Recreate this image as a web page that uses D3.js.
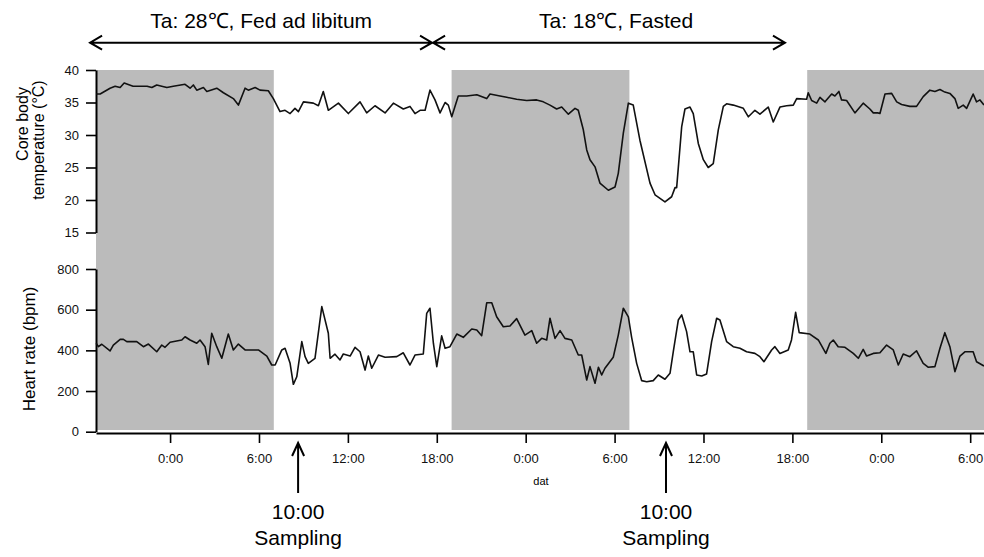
<!DOCTYPE html>
<html>
<head>
<meta charset="utf-8">
<script src="https://cdn.jsdelivr.net/npm/d3@7"></script>
<style>
  body { margin: 0; background: #fff; }
  svg { font-family: "Liberation Sans", Arial, sans-serif; }
</style>
</head>
<body>
<script>
// hours counted from 0:00 of the first full day
const tempHours = [-5.0,-4.72,-4.05,-3.71,-3.37,-3.10,-2.50,-1.55,-1.23,-0.90,
  -0.22,0.22,1.01,1.35,1.57,1.80,2.25,2.48,3.15,3.60,
  4.27,4.61,5.06,5.28,5.74,6.07,6.63,6.97,7.42,7.76,
  8.10,8.43,8.66,9.00,9.67,10.01,10.34,10.68,11.36,12.03,
  12.82,13.27,13.83,14.51,15.07,15.74,16.19,16.53,16.87,17.21,
  17.54,17.88,18.22,18.56,18.78,19.01,19.45,20.02,20.70,21.37,
  21.59,22.27,22.72,23.39,24.07,24.74,25.19,25.64,26.09,26.43,
  26.88,27.33,27.55,27.89,28.12,28.34,28.68,29.01,29.58,30.03,
  30.25,30.59,30.93,31.26,31.71,32.39,32.73,33.40,33.85,34.08,
  34.19,34.53,34.75,35.09,35.31,35.65,35.99,36.32,36.66,37.00,
  37.34,37.56,38.01,38.69,39.03,39.47,39.81,40.37,40.71,41.16,
  41.61,42.06,42.29,42.96,43.07,43.30,43.64,43.86,44.20,44.65,
  44.87,45.14,45.32,45.66,46.22,46.78,47.23,47.46,47.79,47.91,
  48.25,48.70,49.04,49.37,49.93,50.38,50.83,51.28,51.62,51.96,
  52.29,52.63,52.97,53.19,53.53,53.76,54.20,54.43,54.66,54.93];
const tempValues = [36.3,36.3,37.2,37.5,37.3,38.0,37.5,37.5,37.3,37.7,
  37.3,37.5,37.8,37.2,37.7,36.9,37.3,36.7,37.2,36.5,
  35.6,34.6,37.2,36.9,37.3,36.9,36.8,35.6,33.6,33.8,
  33.3,34.1,33.6,35.1,34.9,34.5,36.7,33.8,34.9,33.3,
  35.1,33.4,34.5,33.4,34.9,34.0,34.4,33.3,33.8,33.8,
  36.9,35.4,33.4,35.0,34.6,32.8,36.0,36.0,36.2,35.6,
  36.3,36.0,35.8,35.5,35.3,35.4,35.1,34.6,34.0,34.3,
  33.2,34.1,33.8,30.8,27.7,26.2,25.1,22.6,21.5,22.0,
  24.1,30.3,34.9,34.6,29.2,22.6,20.8,19.7,20.5,21.9,
  21.9,31.3,34.0,34.3,33.3,28.7,26.2,25.0,25.6,30.8,
  34.4,34.8,34.6,34.1,32.8,33.8,33.2,34.3,32.0,34.3,
  34.5,34.6,35.6,35.5,36.5,35.3,34.9,35.8,35.1,36.3,
  36.0,36.7,35.4,35.3,33.4,34.9,34.0,33.4,33.4,33.3,
  36.3,36.4,35.1,34.7,34.4,34.4,35.9,36.9,36.7,37.0,
  36.6,36.4,35.6,34.1,34.6,34.1,36.3,35.1,35.4,34.6];

const hrHours = [-4.99,-4.84,-4.61,-4.05,-3.83,-3.37,-3.15,-2.92,-2.25,-1.80,
  -1.46,-0.90,-0.56,-0.34,0.00,0.79,1.01,1.35,1.80,2.02,
  2.36,2.58,2.81,3.15,3.49,3.93,4.27,4.61,5.06,5.96,
  6.53,6.86,7.09,7.54,7.76,8.10,8.32,8.55,8.89,9.11,
  9.33,9.78,10.24,10.68,10.80,11.13,11.47,11.69,12.15,12.48,
  12.82,13.16,13.38,13.61,14.06,14.51,15.30,15.74,16.19,16.53,
  17.09,17.32,17.54,17.77,18.00,18.33,18.56,18.89,19.35,19.79,
  20.36,20.70,21.03,21.37,21.71,22.04,22.49,22.94,23.39,23.95,
  24.41,24.74,25.08,25.42,25.64,25.98,26.32,26.65,27.11,27.55,
  27.78,28.12,28.34,28.68,28.91,29.13,29.35,29.91,30.25,30.59,
  30.93,31.15,31.49,31.83,32.17,32.61,32.95,33.40,33.74,33.96,
  34.30,34.53,34.86,35.09,35.31,35.54,35.88,36.21,36.55,36.89,
  37.11,37.56,38.01,38.46,38.91,39.47,39.81,40.08,40.60,40.82,
  41.16,41.72,41.94,42.22,42.46,43.18,43.75,44.26,44.53,44.76,
  45.09,45.55,46.11,46.45,46.78,47.01,47.46,47.91,48.36,48.81,
  49.15,49.48,49.93,50.38,50.83,51.16,51.62,51.96,52.29,52.63,
  52.97,53.31,53.64,54.20,54.43,54.93];
const hrValues = [435,418,430,397,426,454,454,443,443,418,
  431,393,426,415,440,451,467,451,435,451,
  418,331,484,418,361,480,402,431,402,402,
  372,328,328,402,410,336,233,270,443,369,
  336,361,615,484,361,381,353,382,372,415,
  393,303,372,312,377,366,369,388,328,377,
  382,582,607,435,320,471,410,418,480,464,
  505,500,472,634,634,565,516,520,556,475,
  497,435,459,451,558,459,497,459,451,377,
  377,254,320,238,317,279,312,366,475,607,
  565,464,336,251,246,251,279,258,287,393,
  549,574,492,393,393,279,274,284,443,558,
  549,443,418,410,393,385,369,344,402,418,
  385,402,451,587,487,480,451,385,435,451,
  418,415,385,361,405,372,385,388,426,402,
  328,382,369,398,336,317,320,410,487,418,
  295,372,393,393,344,323];

// dark phases (19:00 - 7:00)
const nightStart = [-5, 19, 43];
const nightEnd = [7, 31, 55];

const timeTicks = [0, 6, 12, 18, 24, 30, 36, 42, 48, 54];
const timeLabels = ["0:00","6:00","12:00","18:00","0:00","6:00","12:00","18:00","0:00","6:00"];
const tempTicks = [15, 20, 25, 30, 35, 40];
const hrTicks = [0, 200, 400, 600, 800];

const phaseLabels = ["Ta: 28\u2103, Fed ad libitum", "Ta: 18\u2103, Fasted"];
const phaseFrom = [-5.4, 17.75];
const phaseTo = [17.68, 41.5];
const phaseLabelAt = [6.15, 30.1];
const samplingAt = [8.64, 33.47];

const width = 984, height = 557;

const svg = d3.select("body").append("svg")
  .attr("width", width)
  .attr("height", height);

const x = d3.scaleLinear().domain([-5, 55]).range([96, 985]);
const yTemp = d3.scaleLinear().domain([15, 40]).range([232.5, 70]);
const yHr = d3.scaleLinear().domain([0, 800]).range([431.7, 269]);

// gray night bands across both panels
svg.append("g").selectAll("rect")
  .data(nightStart)
  .enter()
  .append("rect")
  .attr("x", (d, i) => x(d))
  .attr("width", (d, i) => x(nightEnd[i]) - x(d))
  .attr("y", yTemp(40))
  .attr("height", 430 - yTemp(40))
  .attr("fill", "#bbbbbb");

// axes
function styleAxis(g) {
  g.select(".domain").attr("stroke", "#000").attr("stroke-width", 2);
  g.selectAll(".tick line").attr("stroke", "#000").attr("stroke-width", 1.6);
  g.selectAll(".tick text").attr("fill", "#111").style("font-size", "13px");
}

svg.append("g")
  .attr("transform", "translate(96,0)")
  .call(d3.axisLeft(yTemp).tickValues(tempTicks).tickSize(10).tickSizeOuter(0).tickPadding(7))
  .call(styleAxis);

svg.append("g")
  .attr("transform", "translate(96,0)")
  .call(d3.axisLeft(yHr).tickValues(hrTicks).tickSize(10).tickSizeOuter(0).tickPadding(7))
  .call(styleAxis);

svg.append("g")
  .attr("transform", "translate(0,433)")
  .call(d3.axisBottom(x).tickValues(timeTicks).tickFormat((d, i) => timeLabels[i])
    .tickSize(10).tickSizeOuter(0).tickPadding(11))
  .call(styleAxis);

// data lines
const tempLine = d3.line().x(d => x(d[0])).y(d => yTemp(d[1]));
const hrLine = d3.line().x(d => x(d[0])).y(d => yHr(d[1]));

svg.append("path")
  .datum(d3.zip(tempHours, tempValues))
  .attr("d", tempLine)
  .attr("fill", "none")
  .attr("stroke", "#111")
  .attr("stroke-width", 1.6)
  .attr("stroke-linejoin", "round");

svg.append("path")
  .datum(d3.zip(hrHours, hrValues))
  .attr("d", hrLine)
  .attr("fill", "none")
  .attr("stroke", "#111")
  .attr("stroke-width", 1.6)
  .attr("stroke-linejoin", "round");

// axis titles
svg.append("text")
  .attr("transform", "translate(28,124) rotate(-90)")
  .attr("text-anchor", "middle")
  .style("font-size", "16px")
  .text("Core body");
svg.append("text")
  .attr("transform", "translate(44,140) rotate(-90)")
  .attr("text-anchor", "middle")
  .style("font-size", "16px")
  .text("temperature (\u00B0C)");
svg.append("text")
  .attr("transform", "translate(35,349) rotate(-90)")
  .attr("text-anchor", "middle")
  .style("font-size", "17px")
  .text("Heart rate (bpm)");
svg.append("text")
  .attr("x", 541)
  .attr("y", 485)
  .attr("text-anchor", "middle")
  .style("font-size", "11px")
  .text("dat");

// condition arrows at the top
const arrowY = 42.7;
phaseLabels.forEach((label, i) => {
  const x1 = x(phaseFrom[i]), x2 = x(phaseTo[i]);
  svg.append("path")
    .attr("d", `M${x1},${arrowY}H${x2}M${x1 + 12},${arrowY - 7}L${x1},${arrowY}L${x1 + 12},${arrowY + 7}` +
      `M${x2 - 12},${arrowY - 7}L${x2},${arrowY}L${x2 - 12},${arrowY + 7}`)
    .attr("fill", "none")
    .attr("stroke", "#000")
    .attr("stroke-width", 2);
  svg.append("text")
    .attr("x", x(phaseLabelAt[i]))
    .attr("y", 28)
    .attr("text-anchor", "middle")
    .style("font-size", "21px")
    .text(label);
});

// sampling arrows
samplingAt.forEach(h => {
  const sx = x(h);
  svg.append("path")
    .attr("d", `M${sx},493V443M${sx - 6},456L${sx},443L${sx + 6},456`)
    .attr("fill", "none")
    .attr("stroke", "#000")
    .attr("stroke-width", 2);
  svg.append("text")
    .attr("x", sx)
    .attr("y", 519)
    .attr("text-anchor", "middle")
    .style("font-size", "21px")
    .text("10:00");
  svg.append("text")
    .attr("x", sx)
    .attr("y", 545)
    .attr("text-anchor", "middle")
    .style("font-size", "21px")
    .text("Sampling");
});
</script>
</body>
</html>
